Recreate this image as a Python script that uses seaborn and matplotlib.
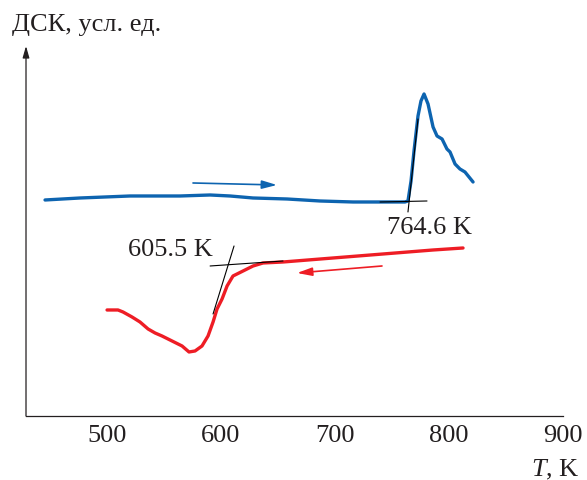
import numpy as np
import pandas as pd
import matplotlib
matplotlib.use('Agg')
import matplotlib.pyplot as plt
import seaborn as sns

# heating curve (blue), T in K, DSC in arbitrary units
heat_T = [445.6, 476.3, 520.2, 564.0, 590.4, 607.9, 628.1, 657.9, 686.8, 715.8,
          745.6, 761.4, 764.0, 766.7, 769.3, 772.8, 775.4, 778.1, 781.6, 786.0,
          789.5, 793.9, 798.2, 800.9, 805.3, 809.6, 814.0, 821.1]
heat_dsc = [216, 218, 220, 220, 221, 220, 218, 217, 215, 214,
            214, 214, 215, 235, 265, 300, 315, 322, 312, 289,
            280, 277, 267, 264, 252, 247, 244, 234]

# cooling curve (red)
cool_T = [500.0, 509.6, 514.0, 521.9, 528.9, 536.0, 542.1, 548.2, 557.0, 565.8,
          571.9, 577.2, 583.3, 588.6, 593.0, 596.5, 600.9, 605.3, 610.5, 619.3,
          628.1, 636.8, 654.4, 698.2, 742.1, 786.0, 812.3]
cool_dsc = [106, 106, 104, 99, 94, 87, 83, 80, 75, 70,
            64, 65, 70, 80, 94, 107, 117, 130, 140, 145,
            150, 153, 154, 158, 162, 166, 168]

# onset tangents
heat_base_T, heat_base_y = [739.5, 780.7], [214, 215]
heat_edge_T, heat_edge_y = [764.0, 772.8], [204, 297]
cool_base_T, cool_base_y = [590.4, 654.4], [150, 155]
cool_edge_T, cool_edge_y = [593.0, 611.4], [102, 170]

onset_labels = ['764.6 K', '605.5 K']
xticks = [500, 600, 700, 800, 900]

blue = '#0d64b0'
red = '#ee1d25'
ink = '#231f20'

sns.set_style('white')
plt.rcParams['font.family'] = ['Liberation Serif', 'DejaVu Serif']
plt.rcParams['mathtext.fontset'] = 'custom'
plt.rcParams['mathtext.it'] = 'Liberation Serif:italic'
plt.rcParams['mathtext.rm'] = 'Liberation Serif'

fig = plt.figure(figsize=(5.87, 4.81), dpi=100)
ax = fig.add_axes([0.0443, 0.1331, 0.9148, 0.7692])

heat = pd.DataFrame({'T': heat_T, 'dsc': heat_dsc})
cool = pd.DataFrame({'T': cool_T, 'dsc': cool_dsc})
sns.lineplot(data=heat, x='T', y='dsc', sort=False, color=blue, lw=2.4, ax=ax)
sns.lineplot(data=cool, x='T', y='dsc', sort=False, color=red, lw=2.4, ax=ax)

for tx, ty in [(heat_base_T, heat_base_y), (heat_edge_T, heat_edge_y),
               (cool_base_T, cool_base_y), (cool_edge_T, cool_edge_y)]:
    ax.plot(tx, ty, color='black', lw=0.8)

ax.text(783.3, 189, onset_labels[0], ha='center', va='center', fontsize=19, color=ink)
ax.text(555.3, 167, onset_labels[1], ha='center', va='center', fontsize=19, color=ink)

# direction arrows
ax.annotate('', xy=(649.1, 231), xytext=(575.4, 233),
            arrowprops=dict(arrowstyle='-|>,head_length=0.9,head_width=0.25',
                            color=blue, lw=1.2, shrinkA=0, shrinkB=0))
ax.annotate('', xy=(666.7, 143), xytext=(741.2, 150),
            arrowprops=dict(arrowstyle='-|>,head_length=0.9,head_width=0.25',
                            color=red, lw=1.2, shrinkA=0, shrinkB=0))

ax.set_xlim(428.9, 900)
ax.set_ylim(0, 370)
ax.set_xticks(xticks)
ax.set_yticks([])
ax.tick_params(axis='x', direction='in', length=5, width=0.8, pad=6,
               labelsize=19, colors=ink)
ax.set_xlabel('')
ax.set_ylabel('')

for s in ['top', 'right', 'left']:
    ax.spines[s].set_visible(False)
ax.spines['bottom'].set_color(ink)
ax.spines['bottom'].set_linewidth(0.9)

# y axis drawn as arrow
ax.annotate('', xy=(0, 1), xytext=(0, 0), xycoords='axes fraction',
            arrowprops=dict(arrowstyle='-|>,head_length=0.7,head_width=0.2',
                            color=ink, lw=0.9, shrinkA=0, shrinkB=0))

fig.text(12 / 587, 1 - 25 / 481, 'ДСК, усл. ед.', ha='left', va='center',
         fontsize=19, color=ink)
fig.text(580 / 587, 1 - 470 / 481, '$T$, K', ha='right', va='center',
         fontsize=19, color=ink)

fig.savefig('out.png', dpi=100)
